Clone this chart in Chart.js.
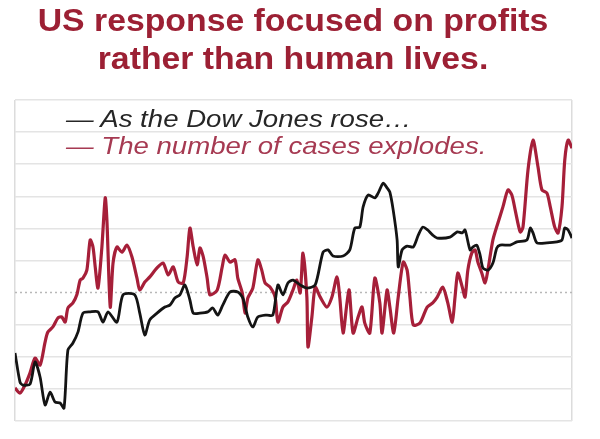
<!DOCTYPE html>
<html>
<head>
<meta charset="utf-8">
<script src="https://cdn.jsdelivr.net/npm/chart.js@4.4.1/dist/chart.umd.min.js"></script>
<style>
  html,body{margin:0;padding:0;background:#fff;}
  #wrap{position:relative;width:600px;height:439px;overflow:hidden;}
  #title{position:absolute;left:-7px;top:2px;width:600px;text-align:center;font-family:"Liberation Sans",Arial,sans-serif;font-weight:bold;font-size:31px;line-height:38px;color:#9c2034;transform:scaleX(1.09);transform-origin:300px 0;}
  .leg{position:absolute;left:66px;font-family:"Liberation Sans",Arial,sans-serif;font-style:italic;font-size:24px;line-height:24px;white-space:nowrap;transform:scaleX(1.15);transform-origin:0 0;}
  #leg1{top:107px;color:#262626;}
  #leg2{top:134px;color:#a63a52;}
  canvas{position:absolute;left:0;top:0;}
</style>
</head>
<body>
<div id="wrap">
<canvas id="c" width="600" height="439"></canvas>
<div id="title">US response focused on profits<br>rather than human lives.</div>
<div class="leg" id="leg1">— As the Dow Jones rose…</div>
<div class="leg" id="leg2">— The number of cases explodes.</div>
</div>
<script>
// Time position (0-100 across the period) and value (0-100 index) for each series
const dowX = [0,0.9,1.4,2.7,3.6,4.5,5.4,6.3,7.2,8.1,8.8,9.5,10.4,11.3,12.2,13.5,14.9,15.8,16.7,18.3,19.4,21.5,22.4,23.3,24.2,25.5,26.9,27.8,28.7,29.6,30.5,31.4,32.0,33.2,34.6,35.5,36.4,37.3,38.6,40.0,40.9,41.8,42.7,43.6,45.2,46.3,47.2,48.1,49.0,49.9,51.2,52.4,53.9,55.3,56.2,57.1,58.9,60.1,61.0,61.9,62.5,63.4,64.6,65.2,66.1,66.8,67.3,67.9,68.6,68.8,69.5,70.4,71.5,72.4,73.2,74.1,75.0,75.8,78.1,79.4,80.3,80.8,81.7,82.2,82.9,83.5,84.0,84.9,85.8,86.5,87.1,88.9,90.1,91.9,92.5,93.0,93.7,95.5,97.3,98.2,98.7,99.3,100];
const dowY = [21.2,12.1,11.2,11.5,18.4,13.7,5.0,9.0,5.9,5.6,4.0,22.1,24.3,27.7,33.6,34.0,34.0,30.8,34.0,30.8,39.3,39.3,33.6,26.8,31.5,33.6,35.5,36.1,38.3,39.3,42.4,37.7,33.6,33.6,34.0,35.2,33.0,36.1,40.2,40.2,38.3,32.4,29.3,32.4,33.0,33.0,42.4,39.3,43.0,43.9,42.4,41.4,42.4,52.6,53.3,51.4,51.4,53.3,60.1,60.4,66.7,70.4,69.5,71.0,74.1,72.6,71.3,65.7,56.4,48.0,53.3,54.5,54.2,57.9,60.4,59.5,57.9,57.0,57.3,58.9,58.6,59.5,53.3,54.2,54.8,51.7,47.7,47.0,49.2,53.9,54.8,54.8,55.8,56.4,60.1,58.6,55.5,55.5,55.8,56.4,60.1,59.5,57.0];

const casesX = [0,0.9,1.8,2.7,3.6,4.5,5.4,5.9,6.8,7.7,8.4,9.0,9.5,10.4,11.1,11.7,12.2,12.9,13.5,14.0,14.4,14.9,15.6,16.2,16.5,17.1,17.6,18.3,19.2,20.1,21.0,21.9,22.4,23.3,24.2,25.5,26.6,27.5,28.4,29.3,30.2,30.9,31.4,32.0,32.7,33.2,33.8,34.5,35.0,36.3,37.2,37.7,38.6,39.5,40.0,40.8,41.3,41.8,42.7,43.6,44.3,44.9,45.8,46.7,47.2,48.1,49.0,49.9,50.6,51.2,51.7,52.4,52.6,53.3,53.9,54.8,56.0,56.9,57.8,58.3,58.9,59.6,60.0,60.7,61.6,62.3,62.8,63.7,64.6,65.5,65.9,66.8,67.3,68.0,68.8,69.7,70.4,70.9,71.5,72.7,74.0,75.0,75.8,76.8,77.7,78.5,79.0,79.5,80.3,80.8,81.3,82.0,82.6,83.1,83.8,84.4,84.9,85.8,86.7,87.6,88.5,89.2,89.8,90.7,91.2,92.1,93.0,93.9,94.6,95.5,96.1,96.9,97.5,98.2,98.7,99.3,100];
const casesY = [10.3,8.7,11.2,15.0,19.6,17.4,24.6,27.7,29.3,32.1,32.4,30.8,35.2,36.8,39.3,43.9,44.5,47.0,56.4,54.2,48.0,41.4,54.2,69.5,62.6,35.5,49.2,54.2,52.6,54.8,51.1,44.5,40.8,43.3,44.9,47.7,49.2,45.5,48.0,43.3,43.0,51.1,60.1,54.2,48.6,53.9,51.1,44.5,39.3,40.8,48.0,51.7,49.5,50.2,44.5,39.9,33.6,38.3,41.4,50.2,47.0,43.0,41.7,38.6,30.8,35.5,37.1,40.8,43.9,39.9,52.3,38.6,23.1,32.4,41.7,38.6,35.5,38.6,44.9,38.6,27.4,36.8,40.8,27.4,32.4,35.5,30.5,27.4,44.5,36.8,27.4,40.8,35.5,27.4,38.6,49.5,47.0,38.6,29.9,30.5,35.5,36.8,38.6,41.7,36.8,30.8,38.6,46.1,41.7,38.6,47.0,52.3,53.3,49.5,46.1,43.0,47.0,56.4,61.7,66.7,72.0,70.4,65.7,58.9,60.4,78.2,87.5,79.1,72.0,71.0,66.7,60.4,58.6,66.7,81.3,87.5,85.0];

const seriesNames = ["As the Dow Jones rose…", "The number of cases explodes."];
const yTicks = [0,10,20,30,40,50,60,70,80,90,100];

const toPts = (xs, ys) => xs.map((x, i) => ({x: x, y: ys[i]}));

const dottedLine = {
  id: 'dottedLine',
  beforeDatasetsDraw(chart) {
    const {ctx, chartArea, scales} = chart;
    const y = scales.y.getPixelForValue(40);
    ctx.save();
    ctx.strokeStyle = '#b8b8b8';
    ctx.lineWidth = 1.5;
    ctx.setLineDash([2, 3]);
    ctx.beginPath();
    ctx.moveTo(chartArea.left, y);
    ctx.lineTo(chartArea.right, y);
    ctx.stroke();
    ctx.restore();
  }
};

new Chart(document.getElementById('c'), {
  type: 'line',
  data: {
    datasets: [
      {label: seriesNames[0], data: toPts(dowX, dowY), borderColor: '#141414', borderWidth: 2.8, pointRadius: 0, tension: 0.25, fill: false},
      {label: seriesNames[1], data: toPts(casesX, casesY), borderColor: '#a61f39', borderWidth: 3.2, pointRadius: 0, tension: 0.25, fill: false}
    ]
  },
  options: {
    responsive: false,
    animation: false,
    layout: {padding: {left: 15, right: 28, top: 100, bottom: 18}},
    plugins: {legend: {display: false}, title: {display: false}, tooltip: {enabled: false}},
    scales: {
      x: {
        type: 'linear', min: 0, max: 100,
        ticks: {display: false, stepSize: 100},
        grid: {display: true, color: '#dcdcdc', lineWidth: 1.5, drawTicks: false},
        border: {display: false}
      },
      y: {
        min: 0, max: 100,
        afterBuildTicks: (s) => { s.ticks = yTicks.map(v => ({value: v})); },
        ticks: {display: false},
        grid: {color: (c) => c.tick && c.tick.value === 40 ? 'rgba(0,0,0,0)' : '#e4e4e4', lineWidth: 1.5, drawTicks: false},
        border: {display: false}
      }
    }
  },
  plugins: [dottedLine]
});
</script>
</body>
</html>
